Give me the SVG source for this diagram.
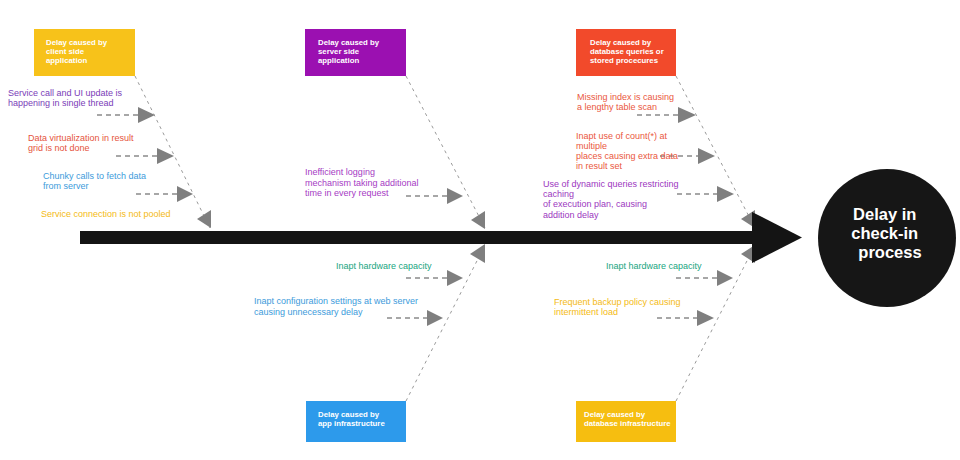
<svg xmlns="http://www.w3.org/2000/svg" width="960" height="460" viewBox="0 0 960 460">
<style>
.box text{font-family:"Liberation Sans",Arial,sans-serif;font-size:7.8px;font-weight:bold;fill:#fff}
.lbl{font-family:"Liberation Sans",Arial,sans-serif;font-size:9px}
.bone{stroke:#9a9a9a;stroke-width:1;stroke-dasharray:3 4;fill:none}
.sub{stroke:#8a8a8a;stroke-width:1.3;stroke-dasharray:5 4;fill:none}
.tri{fill:#7f7f7f}
.purple{fill:#7a3db8}.red{fill:#e5533d}.blue{fill:#3d9bdb}.yellow{fill:#f4ba14}
.magenta{fill:#a63bc4}.orange{fill:#ea573e}.violet{fill:#9c37c0}.teal{fill:#20a57f}
</style>
<rect width="960" height="460" fill="#fff"/>
<g id="connectors">
  <line class="bone" x1="135" y1="76" x2="210" y2="228"/>
  <line class="bone" x1="406" y1="76" x2="485" y2="228"/>
  <line class="bone" x1="676" y1="76" x2="755" y2="228"/>
  <line class="bone" x1="406" y1="401" x2="485" y2="245"/>
  <line class="bone" x1="676" y1="401" x2="755" y2="245"/>
  <polygon class="tri" points="197,219 211,210 211,228"/>
  <polygon class="tri" points="471,220 485,211 485,229"/>
  <polygon class="tri" points="741,219 755,210 755,228"/>
  <polygon class="tri" points="470,254 485,244 485,263"/>
  <polygon class="tri" points="741,254 755,245 755,263"/>
  <line class="sub" x1="97" y1="115" x2="138" y2="115"/><polygon class="tri" points="138,107 155,115 138,123"/>
  <line class="sub" x1="116" y1="156" x2="157" y2="156"/><polygon class="tri" points="157,148 174,156 157,164"/>
  <line class="sub" x1="136" y1="194" x2="177" y2="194"/><polygon class="tri" points="177,186 193,194 177,202"/>
  <line class="sub" x1="406" y1="196" x2="447" y2="196"/><polygon class="tri" points="447,188 463,196 447,204"/>
  <line class="sub" x1="637" y1="115" x2="678" y2="115"/><polygon class="tri" points="678,107 696,115 678,123"/>
  <line class="sub" x1="660" y1="156" x2="698" y2="156"/><polygon class="tri" points="698,148 715,156 698,164"/>
  <line class="sub" x1="677" y1="194" x2="717" y2="194"/><polygon class="tri" points="717,186 734,194 717,202"/>
  <line class="sub" x1="406" y1="278" x2="447" y2="278"/><polygon class="tri" points="447,270 463,278 447,286"/>
  <line class="sub" x1="387" y1="318" x2="427" y2="318"/><polygon class="tri" points="427,310 443,318 427,326"/>
  <line class="sub" x1="676" y1="278" x2="717" y2="278"/><polygon class="tri" points="717,270 733,278 717,286"/>
  <line class="sub" x1="657" y1="318" x2="697" y2="318"/><polygon class="tri" points="697,310 714,318 697,326"/>
</g>
<g id="spine">
  <rect x="80" y="231" width="674" height="13" fill="#141414"/>
  <polygon points="752,212 802,237.5 752,263" fill="#141414"/>
</g>
<g id="effect">
  <circle cx="887" cy="238" r="69" fill="#161616"/>
  <text font-family="Liberation Sans,Arial,sans-serif" font-size="16.5" font-weight="bold" fill="#fff" text-anchor="middle">
    <tspan x="887" y="220">Delay in</tspan>
    <tspan x="887" y="239">check-in</tspan>
    <tspan x="890" y="258">process</tspan>
  </text>
</g>
<g id="cat-client" class="box">
  <rect x="34" y="29" width="101" height="47" fill="#f7c21a"/>
  <text><tspan x="46" y="45">Delay caused by</tspan><tspan x="46" y="54">client side</tspan><tspan x="46" y="63">application</tspan></text>
</g>
<g id="cat-server" class="box">
  <rect x="305" y="29" width="101" height="47" fill="#9b10b1"/>
  <text><tspan x="318" y="45">Delay caused by</tspan><tspan x="318" y="54">server side</tspan><tspan x="318" y="63">application</tspan></text>
</g>
<g id="cat-db" class="box">
  <rect x="576" y="29" width="100" height="47" fill="#f24a2b"/>
  <text><tspan x="590" y="45">Delay caused by</tspan><tspan x="590" y="54">database queries or</tspan><tspan x="590" y="63">stored procecures</tspan></text>
</g>
<g id="cat-appinfra" class="box">
  <rect x="306" y="401" width="100" height="41" fill="#2d9aeb"/>
  <text><tspan x="318" y="417">Delay caused by</tspan><tspan x="318" y="426">app infrastructure</tspan></text>
</g>
<g id="cat-dbinfra" class="box">
  <rect x="576" y="401" width="100" height="41" fill="#f6be10"/>
  <text><tspan x="584" y="417">Delay caused by</tspan><tspan x="584" y="426">database infrastructure</tspan></text>
</g>
<g id="causes">
  <text class="lbl purple"><tspan x="8" y="96">Service call and UI update is</tspan><tspan x="8" y="106">happening in single thread</tspan></text>
  <text class="lbl red"><tspan x="28" y="141">Data virtualization in result</tspan><tspan x="28" y="151">grid is not done</tspan></text>
  <text class="lbl blue"><tspan x="43" y="179">Chunky calls to fetch data</tspan><tspan x="43" y="189">from server</tspan></text>
  <text class="lbl yellow" x="41" y="217">Service connection is not pooled</text>
  <text class="lbl magenta"><tspan x="305" y="175">Inefficient logging</tspan><tspan x="305" y="186">mechanism taking additional</tspan><tspan x="305" y="196">time in every request</tspan></text>
  <text class="lbl orange"><tspan x="577" y="100">Missing index is causing</tspan><tspan x="577" y="110">a lengthy table scan</tspan></text>
  <text class="lbl orange"><tspan x="576" y="139">Inapt use of count(*) at</tspan><tspan x="576" y="149">multiple</tspan><tspan x="576" y="159">places causing extra data</tspan><tspan x="576" y="169">in result set</tspan></text>
  <text class="lbl violet"><tspan x="543" y="187">Use of dynamic queries restricting</tspan><tspan x="543" y="197">caching</tspan><tspan x="543" y="207">of execution plan, causing</tspan><tspan x="543" y="218">addition delay</tspan></text>
  <text class="lbl teal" x="336" y="269">Inapt hardware capacity</text>
  <text class="lbl blue"><tspan x="254" y="304">Inapt configuration settings at web server</tspan><tspan x="254" y="315">causing unnecessary delay</tspan></text>
  <text class="lbl teal" x="606" y="269">Inapt hardware capacity</text>
  <text class="lbl yellow"><tspan x="554" y="305">Frequent backup policy causing</tspan><tspan x="554" y="315">intermittent load</tspan></text>
</g>
</svg>
